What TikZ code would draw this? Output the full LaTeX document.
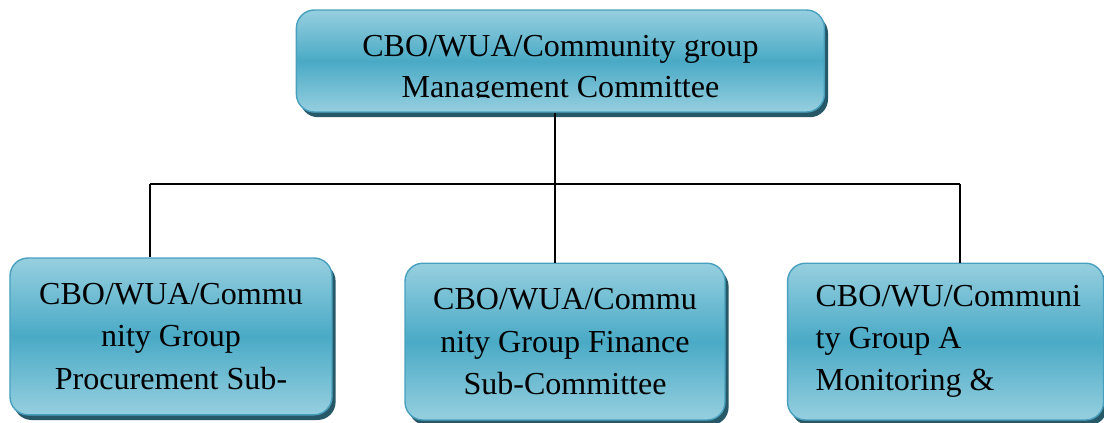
\documentclass[tikz,border=0pt]{standalone}
\usepackage{fontspec}
\setmainfont{Liberation Serif}
\usetikzlibrary{shadows}

\definecolor{boxlight}{RGB}{150,207,223}
\definecolor{boxdark}{RGB}{74,170,198}
\definecolor{boxedge}{RGB}{72,160,190}
\definecolor{boxshade}{RGB}{38,88,104}

\tikzset{
  unitbox/.style={draw=boxedge,line width=1pt,rounded corners=0.45cm,%chktex 36
    top color=boxlight,bottom color=boxlight,middle color=boxdark,
    drop shadow={shadow xshift=0.09cm,shadow yshift=-0.13cm,fill=boxshade,opacity=1},
    font=\fontsize{22.8}{30}\selectfont,inner sep=0pt},
  unittext/.style={font=\fontsize{22.8}{29}\selectfont,inner sep=0pt,align=center},
  link/.style={line width=0.9pt,black}
}

\begin{document}
\begin{tikzpicture}
        \useasboundingbox (0,0) rectangle (27.6,10.55);

        % Management committee (its text runs out of the frame).
        \node[unitbox,minimum width=13.2cm,minimum height=2.55cm] (mgmt) at (14.01,9.025) {};
        \begin{scope}
          \clip (mgmt.north west) rectangle ([yshift=0.38cm]mgmt.south east);
          \node[unittext] (mgmttext) at ([yshift=-0.22cm]mgmt.center)
            {CBO/WUA/Community group\\Management Committee};
        \end{scope}

        % Sub-committees.
        \node[unitbox,minimum width=8.05cm,minimum height=3.92cm,align=center]
          (proc) at (4.275,2.14) {CBO/WUA/Commu\\nity Group\\Procurement Sub-};
        \node[unitbox,minimum width=8.0cm,minimum height=3.92cm,align=center]
          (fin) at (14.125,2.01) {CBO/WUA/Commu\\nity Group Finance\\Sub-Committee};
        \node[unitbox,minimum height=3.92cm,text width=6.5cm,inner xsep=0.7cm,align=flush left]
          (mon) at (23.64,2.01) {CBO/WU/Communi\\ty Group A\\Monitoring \&};

        % Bar.
        \coordinate (barL) at (3.75,5.95);
        \coordinate (hub) at (13.875,5.95);
        \coordinate (barR) at (24.0,5.95);
        \draw[link] (mgmt.south -| hub) -- (hub);
        \draw[link] (barL) -- (barR);
        \draw[link] (barL) -- (barL |- proc.north);
        \draw[link] (hub) -- (hub |- fin.north);
        \draw[link] (barR) -- (barR |- mon.north);
\end{tikzpicture}
\end{document}
